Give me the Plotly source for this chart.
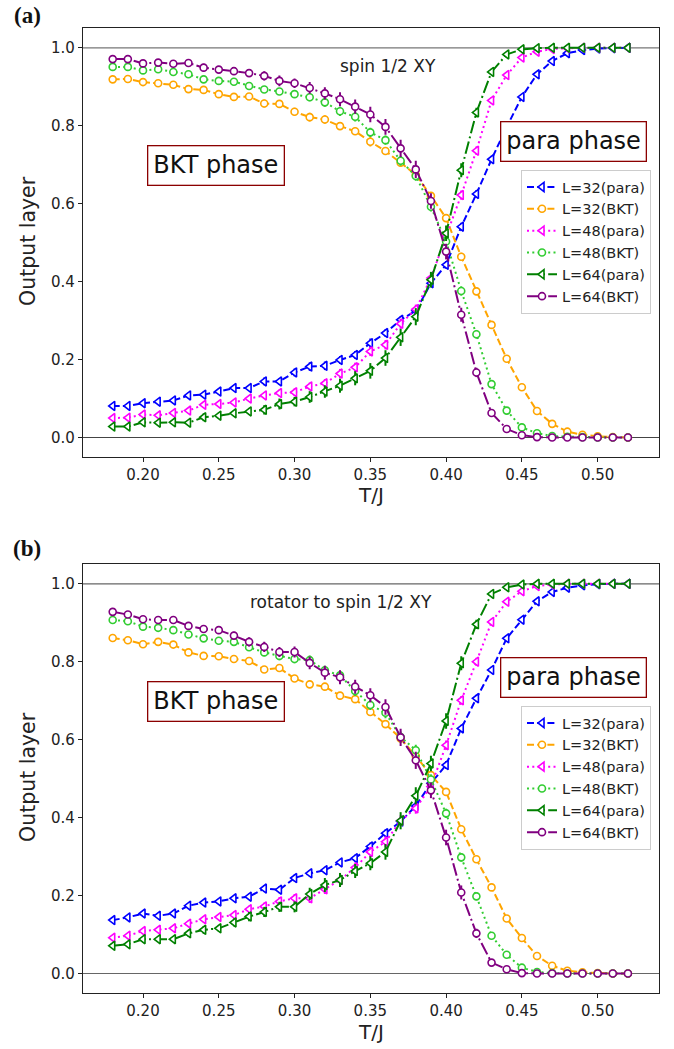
import plotly.graph_objects as go

W, H = 674, 1049

# Temperature grid T/J
temps = [0.18, 0.19, 0.20, 0.21, 0.22, 0.23, 0.24, 0.25, 0.26, 0.27, 0.28, 0.29,
         0.30, 0.31, 0.32, 0.33, 0.34, 0.35, 0.36, 0.37, 0.38, 0.39, 0.40, 0.41,
         0.42, 0.43, 0.44, 0.45, 0.46, 0.47, 0.48, 0.49, 0.50, 0.51, 0.52]

# ---- panel (a): spin 1/2 XY ----
a_para32 = [0.081, 0.081, 0.088, 0.092, 0.095, 0.108, 0.110, 0.118, 0.127, 0.127, 0.144, 0.144,
            0.167, 0.182, 0.184, 0.199, 0.212, 0.242, 0.268, 0.302, 0.325, 0.396, 0.443, 0.541,
            0.625, 0.714, 0.797, 0.874, 0.932, 0.966, 0.986, 0.994, 0.998, 0.999, 1.000]
a_bkt32 = [0.919, 0.920, 0.912, 0.909, 0.905, 0.894, 0.892, 0.881, 0.874, 0.875, 0.857, 0.856,
           0.836, 0.822, 0.816, 0.799, 0.786, 0.759, 0.735, 0.705, 0.674, 0.620, 0.563, 0.464,
           0.375, 0.289, 0.202, 0.129, 0.068, 0.035, 0.015, 0.007, 0.003, 0.001, 0.000]
a_para48 = [0.050, 0.051, 0.059, 0.057, 0.063, 0.069, 0.084, 0.086, 0.090, 0.100, 0.108, 0.114,
            0.116, 0.131, 0.139, 0.164, 0.180, 0.221, 0.238, 0.292, 0.329, 0.409, 0.517, 0.622,
            0.736, 0.865, 0.930, 0.975, 0.990, 0.997, 0.999, 1.000, 1.000, 1.000, 1.000]
a_bkt48 = [0.951, 0.951, 0.942, 0.945, 0.938, 0.932, 0.919, 0.915, 0.913, 0.902, 0.893, 0.888,
           0.881, 0.873, 0.860, 0.837, 0.823, 0.783, 0.763, 0.710, 0.671, 0.592, 0.503, 0.376,
           0.265, 0.137, 0.069, 0.026, 0.011, 0.004, 0.002, 0.001, 0.000, 0.000, 0.000]
a_para64 = [0.028, 0.028, 0.039, 0.038, 0.039, 0.038, 0.052, 0.056, 0.062, 0.067, 0.071, 0.086,
            0.092, 0.104, 0.118, 0.133, 0.152, 0.171, 0.204, 0.257, 0.310, 0.405, 0.524, 0.686,
            0.834, 0.938, 0.983, 0.996, 0.999, 1.000, 1.000, 1.000, 1.000, 1.000, 1.000]
a_bkt64 = [0.971, 0.971, 0.960, 0.962, 0.959, 0.961, 0.949, 0.944, 0.940, 0.935, 0.928, 0.915,
           0.909, 0.897, 0.883, 0.868, 0.849, 0.829, 0.797, 0.742, 0.688, 0.607, 0.477, 0.315,
           0.167, 0.063, 0.022, 0.006, 0.001, 0.000, 0.000, 0.000, 0.000, 0.000, 0.000]

a_err32 = [0.005, 0.005, 0.007, 0.006, 0.006, 0.007, 0.008, 0.008, 0.007, 0.007, 0.010, 0.008,
           0.010, 0.011, 0.011, 0.010, 0.010, 0.012, 0.010, 0.010, 0.009, 0.010, 0.010, 0.010,
           0.010, 0.009, 0.008, 0.007, 0.005, 0.003, 0.002, 0.001, 0.001, 0.000, 0.000]
a_err48 = [0.005, 0.005, 0.006, 0.006, 0.006, 0.007, 0.008, 0.007, 0.007, 0.008, 0.008, 0.009,
           0.010, 0.010, 0.011, 0.012, 0.012, 0.012, 0.012, 0.013, 0.012, 0.012, 0.012, 0.012,
           0.011, 0.009, 0.007, 0.005, 0.003, 0.002, 0.001, 0.001, 0.000, 0.000, 0.000]
a_err64 = [0.005, 0.005, 0.006, 0.006, 0.007, 0.007, 0.010, 0.008, 0.008, 0.009, 0.012, 0.014,
           0.012, 0.015, 0.016, 0.018, 0.018, 0.020, 0.020, 0.022, 0.022, 0.020, 0.020, 0.018,
           0.012, 0.008, 0.005, 0.003, 0.001, 0.000, 0.000, 0.000, 0.000, 0.000, 0.000]

# ---- panel (b): rotator to spin 1/2 XY ----
b_para32 = [0.137, 0.144, 0.154, 0.148, 0.154, 0.174, 0.182, 0.185, 0.193, 0.197, 0.218, 0.215,
            0.245, 0.257, 0.265, 0.285, 0.296, 0.326, 0.360, 0.390, 0.430, 0.488, 0.535, 0.629,
            0.706, 0.779, 0.860, 0.908, 0.955, 0.979, 0.990, 0.996, 0.999, 1.000, 1.000]
b_bkt32 = [0.861, 0.855, 0.845, 0.851, 0.844, 0.824, 0.815, 0.814, 0.807, 0.802, 0.780, 0.784,
           0.757, 0.742, 0.736, 0.713, 0.704, 0.671, 0.640, 0.603, 0.558, 0.509, 0.466, 0.370,
           0.293, 0.221, 0.141, 0.091, 0.045, 0.020, 0.007, 0.003, 0.001, 0.000, 0.000]
b_para48 = [0.092, 0.097, 0.109, 0.112, 0.116, 0.128, 0.139, 0.145, 0.150, 0.165, 0.172, 0.185,
            0.193, 0.193, 0.216, 0.240, 0.272, 0.312, 0.338, 0.392, 0.424, 0.480, 0.586, 0.701,
            0.800, 0.902, 0.954, 0.981, 0.994, 0.998, 1.000, 1.000, 1.000, 1.000, 1.000]
b_bkt48 = [0.907, 0.904, 0.890, 0.887, 0.881, 0.870, 0.860, 0.854, 0.851, 0.837, 0.824, 0.815,
           0.807, 0.804, 0.778, 0.765, 0.725, 0.689, 0.669, 0.607, 0.573, 0.498, 0.411, 0.298,
           0.198, 0.097, 0.048, 0.015, 0.004, 0.001, 0.000, 0.000, 0.000, 0.000, 0.000]
b_para64 = [0.071, 0.075, 0.088, 0.088, 0.088, 0.103, 0.112, 0.116, 0.131, 0.146, 0.158, 0.171,
            0.171, 0.204, 0.227, 0.240, 0.263, 0.283, 0.312, 0.392, 0.456, 0.539, 0.648, 0.796,
            0.896, 0.974, 0.991, 0.998, 1.000, 1.000, 1.000, 1.000, 1.000, 1.000, 1.000]
b_bkt64 = [0.928, 0.921, 0.909, 0.907, 0.907, 0.892, 0.884, 0.881, 0.867, 0.851, 0.838, 0.825,
           0.825, 0.797, 0.772, 0.760, 0.736, 0.714, 0.684, 0.606, 0.547, 0.470, 0.349, 0.208,
           0.103, 0.028, 0.011, 0.001, 0.000, 0.000, 0.000, 0.000, 0.000, 0.000, 0.000]

b_err32 = [0.005, 0.005, 0.006, 0.006, 0.006, 0.007, 0.007, 0.007, 0.007, 0.008, 0.009, 0.009,
           0.009, 0.008, 0.009, 0.009, 0.009, 0.010, 0.010, 0.010, 0.010, 0.010, 0.010, 0.009,
           0.009, 0.008, 0.007, 0.006, 0.004, 0.003, 0.002, 0.001, 0.000, 0.000, 0.000]
b_err48 = [0.005, 0.005, 0.006, 0.006, 0.006, 0.008, 0.008, 0.008, 0.009, 0.009, 0.010, 0.011,
           0.011, 0.012, 0.012, 0.012, 0.013, 0.013, 0.014, 0.014, 0.014, 0.013, 0.012, 0.011,
           0.010, 0.008, 0.006, 0.004, 0.002, 0.001, 0.000, 0.000, 0.000, 0.000, 0.000]
b_err64 = [0.005, 0.006, 0.008, 0.007, 0.007, 0.009, 0.010, 0.009, 0.010, 0.012, 0.013, 0.013,
           0.014, 0.016, 0.018, 0.018, 0.018, 0.018, 0.020, 0.022, 0.022, 0.020, 0.020, 0.018,
           0.012, 0.008, 0.005, 0.002, 0.001, 0.000, 0.000, 0.000, 0.000, 0.000, 0.000]

series_names = ["L=32(para)", "L=32(BKT)", "L=48(para)", "L=48(BKT)", "L=64(para)", "L=64(BKT)"]
colors = ["#0000ff", "#ffa500", "#ff00ff", "#32cd32", "#008000", "#800080"]
dashes = ["7px,3.2px", "7px,3.2px", "2px,3.3px", "2px,3.3px",
          "12.8px,3.2px,2px,3.2px", "12.8px,3.2px,2px,3.2px"]
symbols = ["triangle-left", "circle", "triangle-left", "circle", "triangle-left", "circle"]

panel_a = [a_para32, a_bkt32, a_para48, a_bkt48, a_para64, a_bkt64]
panel_a_err = [a_err32, a_err32, a_err48, a_err48, a_err64, a_err64]
panel_b = [b_para32, b_bkt32, b_para48, b_bkt48, b_para64, b_bkt64]
panel_b_err = [b_err32, b_err32, b_err48, b_err48, b_err64, b_err64]

FONT = "DejaVu Sans"


def px_x(px):
    return px / W


def px_y(py):
    return 1 - py / H


fig = go.Figure()

for panel, errs, xa, ya, lg in [(panel_a, panel_a_err, "x", "y", "legend"),
                                (panel_b, panel_b_err, "x2", "y2", "legend2")]:
    for name, vals, err, col, dash, sym in zip(series_names, panel, errs, colors, dashes, symbols):
        fig.add_trace(go.Scatter(
            x=temps, y=vals, name=name, xaxis=xa, yaxis=ya, legend=lg,
            mode="lines+markers",
            line=dict(color=col, width=2, dash=dash),
            marker=dict(symbol=sym, size=7 if sym == "circle" else 8, color="white",
                        line=dict(color=col, width=1.6)),
            error_y=dict(type="data", array=err, visible=True, color=col,
                         thickness=2, width=0),
        ))

x_dom = [px_x(83), px_x(659)]
a_dom = [px_y(457), px_y(28.3)]
b_dom = [px_y(993), px_y(564.3)]

axis_common = dict(showline=True, mirror=True, linecolor="#222", linewidth=1.3,
                   ticks="outside", ticklen=4, tickwidth=1.2, tickcolor="#222",
                   showgrid=False, zeroline=False,
                   tickfont=dict(family=FONT, size=15, color="#222"))
x_ticks = [0.20, 0.25, 0.30, 0.35, 0.40, 0.45, 0.50]
y_ticks = [0.0, 0.2, 0.4, 0.6, 0.8, 1.0]

legend_common = dict(xanchor="right", yanchor="top", bgcolor="white",
                     bordercolor="#cccccc", borderwidth=1,
                     font=dict(family=FONT, size=14.5, color="#222"), itemwidth=30)

fig.update_layout(
    width=W, height=H, margin=dict(l=0, r=0, t=0, b=0),
    paper_bgcolor="white", plot_bgcolor="white",
    xaxis=dict(domain=x_dom, anchor="y", range=[0.1604, 0.5405], tickvals=x_ticks,
               tickformat=".2f", **axis_common),
    yaxis=dict(domain=a_dom, anchor="x", range=[-0.05, 1.05], tickvals=y_ticks,
               tickformat=".1f", **axis_common),
    xaxis2=dict(domain=x_dom, anchor="y2", range=[0.1604, 0.5405], tickvals=x_ticks,
                tickformat=".2f", **axis_common),
    yaxis2=dict(domain=b_dom, anchor="x2", range=[-0.05, 1.05], tickvals=y_ticks,
                tickformat=".1f", **axis_common),
    legend=dict(x=px_x(651), y=px_y(170), **legend_common),
    legend2=dict(x=px_x(651), y=px_y(706), **legend_common),
    showlegend=True,
)

# reference lines at 0 and 1
for xr, yr, c0, c1 in [("x domain", "y", "#444", "#777"), ("x2 domain", "y2", "#666", "#666")]:
    fig.add_shape(type="line", xref=xr, yref=yr, x0=0, x1=1, y0=0, y1=0,
                  line=dict(color=c0, width=1.2), layer="below")
    fig.add_shape(type="line", xref=xr, yref=yr, x0=0, x1=1, y0=1, y1=1,
                  line=dict(color=c1, width=1.2), layer="below")

base = dict(xref="paper", yref="paper", showarrow=False, xanchor="center", yanchor="middle")
annots = []
# panel labels
for lab, py in [("<b>(a)</b>", 15), ("<b>(b)</b>", 548)]:
    annots.append(dict(text=lab, x=px_x(27), y=px_y(py),
                       font=dict(family="Liberation Serif", size=23, color="#111"), **base))
# axis titles
for py in [241, 777]:
    annots.append(dict(text="Output layer", x=px_x(28), y=px_y(py), textangle=-90,
                       font=dict(family=FONT, size=20.5, color="#222"), **base))
for py in [495, 1032]:
    annots.append(dict(text="T/J", x=px_x(371), y=px_y(py),
                       font=dict(family=FONT, size=20, color="#222"), **base))
# model captions
annots.append(dict(text="spin 1/2 XY", x=px_x(388), y=px_y(66),
                   font=dict(family=FONT, size=17, color="#222"), **base))
annots.append(dict(text="rotator to spin 1/2 XY", x=px_x(341), y=px_y(602),
                   font=dict(family=FONT, size=17, color="#222"), **base))
# phase boxes
for txt, cx, cy in [("BKT phase", 215.5, 165.5), ("para phase", 573.5, 141.5),
                    ("BKT phase", 215.5, 701.5), ("para phase", 573.5, 677.5)]:
    annots.append(dict(text=txt, x=px_x(cx), y=px_y(cy), bgcolor="white",
                       bordercolor="#8b0000", borderwidth=1.3, borderpad=5,
                       font=dict(family=FONT, size=24, color="#111"), **base))
fig.update_layout(annotations=annots)

fig.write_html("out.html")
